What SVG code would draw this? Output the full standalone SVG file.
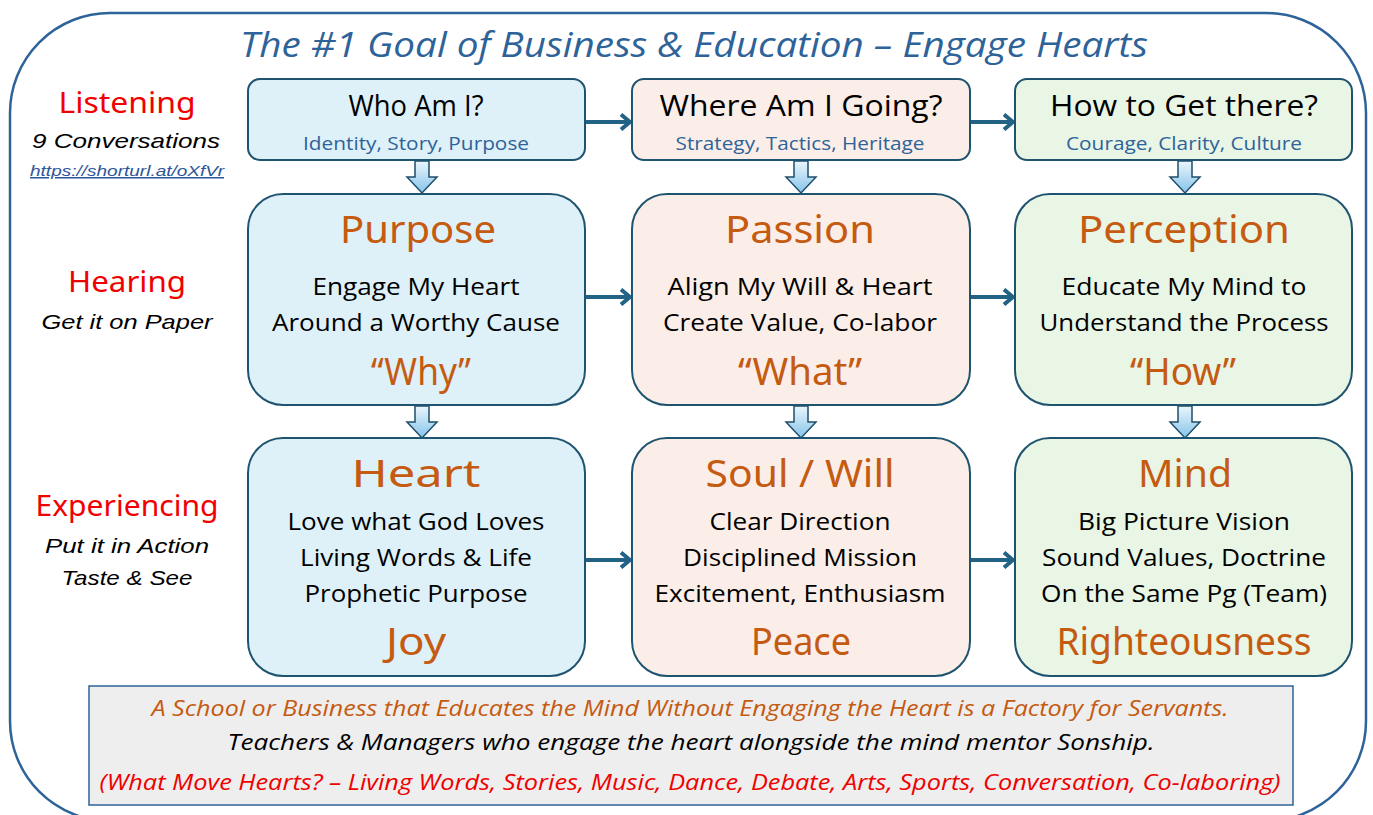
<svg xmlns="http://www.w3.org/2000/svg" width="1373" height="815" viewBox="0 0 1373 815">
<style>
.frame{fill:#fff;stroke:#2E6399;stroke-width:2.5}
.box{stroke:#1F5470;stroke-width:2}
.blue{fill:#DEF0F8}.peach{fill:#FBEEE8}.green{fill:#E9F5E5}
.t{font-family:"Open Sans","Noto Sans",sans-serif;text-anchor:middle}
.q{font-size:30px;fill:#000}
.sub{font-size:19px;fill:#2E6399}
.hw{font-family:"Noto Sans","Open Sans",sans-serif;font-size:38px;fill:#C55A11;text-anchor:middle}
.body{font-size:24px;fill:#000}
.red{font-family:"Noto Sans",sans-serif;font-size:29px;fill:#F00000;text-anchor:middle}
.it{font-family:"Liberation Sans","Noto Sans",sans-serif;font-style:italic;font-size:21px;fill:#000;text-anchor:middle}
.conn{stroke:#226285;stroke-width:4;fill:none}
.blk{fill:url(#g);stroke:#1F4E6B;stroke-width:1.5}
</style>
<defs>
<linearGradient id="g" x1="0" y1="0" x2="0" y2="1"><stop offset="0" stop-color="#EAF6FC"/><stop offset="1" stop-color="#86C4EA"/></linearGradient>
<marker id="ah" markerWidth="14" markerHeight="18" refX="11" refY="9" orient="auto" markerUnits="userSpaceOnUse"><path d="M2,1.5 L11,9 L2,16.5" fill="none" stroke="#226285" stroke-width="4"/></marker>
</defs>
<rect class="frame" x="10" y="13" width="1356" height="808" rx="100"/>
<text x="694" y="57" font-family="Open Sans,Noto Sans,sans-serif" font-style="italic" font-size="34" fill="#2E6399" text-anchor="middle" textLength="908" lengthAdjust="spacingAndGlyphs">The #1 Goal of Business &amp; Education – Engage Hearts</text>

<g id="labels">
<text class="red" x="127" y="113" textLength="137" lengthAdjust="spacingAndGlyphs">Listening</text>
<text class="it" x="126" y="148" textLength="188" lengthAdjust="spacingAndGlyphs">9 Conversations</text>
<text class="it" x="127" y="176" text-decoration="underline" textLength="194" lengthAdjust="spacingAndGlyphs" style="fill:#2E5597;font-size:15px">https://shorturl.at/oXfVr</text>
<text class="red" x="127" y="292" textLength="118" lengthAdjust="spacingAndGlyphs">Hearing</text>
<text class="it" x="127" y="329" textLength="171" lengthAdjust="spacingAndGlyphs">Get it on Paper</text>
<text class="red" x="127" y="516" textLength="183" lengthAdjust="spacingAndGlyphs">Experiencing</text>
<text class="it" x="127" y="553" textLength="164" lengthAdjust="spacingAndGlyphs">Put it in Action</text>
<text class="it" x="127" y="585" textLength="131" lengthAdjust="spacingAndGlyphs">Taste &amp; See</text>
</g>

<g id="connectors">
<line class="conn" x1="586" y1="122" x2="630" y2="122" marker-end="url(#ah)"/>
<line class="conn" x1="971" y1="122" x2="1013" y2="122" marker-end="url(#ah)"/>
<line class="conn" x1="586" y1="297" x2="630" y2="297" marker-end="url(#ah)"/>
<line class="conn" x1="971" y1="297" x2="1013" y2="297" marker-end="url(#ah)"/>
<line class="conn" x1="586" y1="560" x2="630" y2="560" marker-end="url(#ah)"/>
<line class="conn" x1="971" y1="560" x2="1013" y2="560" marker-end="url(#ah)"/>
<path class="blk" d="M415,161 h14 v16 h8 l-15,16 l-15,-16 h8 z"/>
<path class="blk" d="M794,161 h14 v16 h8 l-15,16 l-15,-16 h8 z"/>
<path class="blk" d="M1178,161 h14 v16 h8 l-15,16 l-15,-16 h8 z"/>
<path class="blk" d="M415,406 h14 v16 h8 l-15,16 l-15,-16 h8 z"/>
<path class="blk" d="M794,406 h14 v16 h8 l-15,16 l-15,-16 h8 z"/>
<path class="blk" d="M1178,406 h14 v16 h8 l-15,16 l-15,-16 h8 z"/>
</g>

<g id="who">
<rect class="box blue" x="248" y="79" width="337" height="81" rx="12"/>
<text class="t q" x="416" y="116" textLength="135" lengthAdjust="spacingAndGlyphs">Who Am I?</text>
<text class="t sub" x="416" y="150" textLength="226" lengthAdjust="spacingAndGlyphs">Identity, Story, Purpose</text>
</g>
<g id="where">
<rect class="box peach" x="632" y="79" width="338" height="81" rx="12"/>
<text class="t q" x="801" y="116" textLength="283" lengthAdjust="spacingAndGlyphs">Where Am I Going?</text>
<text class="t sub" x="800" y="150" textLength="249" lengthAdjust="spacingAndGlyphs">Strategy, Tactics, Heritage</text>
</g>
<g id="how">
<rect class="box green" x="1015" y="79" width="337" height="81" rx="12"/>
<text class="t q" x="1184" y="116" textLength="268" lengthAdjust="spacingAndGlyphs">How to Get there?</text>
<text class="t sub" x="1184" y="150" textLength="236" lengthAdjust="spacingAndGlyphs">Courage, Clarity, Culture</text>
</g>

<g id="purpose">
<rect class="box blue" x="248" y="194" width="337" height="211" rx="35"/>
<text class="hw" x="418" y="243" textLength="156" lengthAdjust="spacingAndGlyphs">Purpose</text>
<text class="t body" x="416" y="295" textLength="207" lengthAdjust="spacingAndGlyphs">Engage My Heart</text>
<text class="t body" x="416" y="331" textLength="288" lengthAdjust="spacingAndGlyphs">Around a Worthy Cause</text>
<text class="hw" x="421" y="385" textLength="100" lengthAdjust="spacingAndGlyphs">“Why”</text>
</g>
<g id="passion">
<rect class="box peach" x="632" y="194" width="338" height="211" rx="35"/>
<text class="hw" x="800" y="243" textLength="150" lengthAdjust="spacingAndGlyphs">Passion</text>
<text class="t body" x="800" y="295" textLength="265" lengthAdjust="spacingAndGlyphs">Align My Will &amp; Heart</text>
<text class="t body" x="800" y="331" textLength="274" lengthAdjust="spacingAndGlyphs">Create Value, Co-labor</text>
<text class="hw" x="800" y="385" textLength="124" lengthAdjust="spacingAndGlyphs">“What”</text>
</g>
<g id="perception">
<rect class="box green" x="1015" y="194" width="337" height="211" rx="35"/>
<text class="hw" x="1184" y="243" textLength="212" lengthAdjust="spacingAndGlyphs">Perception</text>
<text class="t body" x="1184" y="295" textLength="245" lengthAdjust="spacingAndGlyphs">Educate My Mind to</text>
<text class="t body" x="1184" y="331" textLength="289" lengthAdjust="spacingAndGlyphs">Understand the Process</text>
<text class="hw" x="1183" y="385" textLength="106" lengthAdjust="spacingAndGlyphs">“How”</text>
</g>

<g id="heart">
<rect class="box blue" x="248" y="438" width="337" height="238" rx="35"/>
<text class="hw" x="416" y="487" textLength="129" lengthAdjust="spacingAndGlyphs">Heart</text>
<text class="t body" x="416" y="530" textLength="257" lengthAdjust="spacingAndGlyphs">Love what God Loves</text>
<text class="t body" x="416" y="566" textLength="232" lengthAdjust="spacingAndGlyphs">Living Words &amp; Life</text>
<text class="t body" x="416" y="602" textLength="223" lengthAdjust="spacingAndGlyphs">Prophetic Purpose</text>
<text class="hw" x="416" y="655" textLength="60" lengthAdjust="spacingAndGlyphs">Joy</text>
</g>
<g id="soul">
<rect class="box peach" x="632" y="438" width="338" height="238" rx="35"/>
<text class="hw" x="800" y="487" textLength="189" lengthAdjust="spacingAndGlyphs">Soul / Will</text>
<text class="t body" x="800" y="530" textLength="181" lengthAdjust="spacingAndGlyphs">Clear Direction</text>
<text class="t body" x="800" y="566" textLength="234" lengthAdjust="spacingAndGlyphs">Disciplined Mission</text>
<text class="t body" x="800" y="602" textLength="291" lengthAdjust="spacingAndGlyphs">Excitement, Enthusiasm</text>
<text class="hw" x="801" y="655" textLength="100" lengthAdjust="spacingAndGlyphs">Peace</text>
</g>
<g id="mind">
<rect class="box green" x="1015" y="438" width="337" height="238" rx="35"/>
<text class="hw" x="1185" y="487" textLength="94" lengthAdjust="spacingAndGlyphs">Mind</text>
<text class="t body" x="1184" y="530" textLength="212" lengthAdjust="spacingAndGlyphs">Big Picture Vision</text>
<text class="t body" x="1184" y="566" textLength="284" lengthAdjust="spacingAndGlyphs">Sound Values, Doctrine</text>
<text class="t body" x="1184" y="602" textLength="286" lengthAdjust="spacingAndGlyphs">On the Same Pg (Team)</text>
<text class="hw" x="1184" y="655" textLength="255" lengthAdjust="spacingAndGlyphs">Righteousness</text>
</g>

<g id="note">
<rect x="89" y="686" width="1204" height="119" fill="#EEEEEE" stroke="#2E6399" stroke-width="1.5"/>
<text class="t" x="690" y="716" font-style="italic" style="fill:#C55A11;font-size:21px" textLength="1077" lengthAdjust="spacingAndGlyphs">A School or Business that Educates the Mind Without Engaging the Heart is a Factory for Servants.</text>
<text class="t" x="691" y="750" font-style="italic" style="fill:#000;font-size:21px" textLength="927" lengthAdjust="spacingAndGlyphs">Teachers &amp; Managers who engage the heart alongside the mind mentor Sonship.</text>
<text class="t" x="690" y="790" font-style="italic" style="fill:#F00000;font-size:21px" textLength="1181" lengthAdjust="spacingAndGlyphs">(What Move Hearts? – Living Words, Stories, Music, Dance, Debate, Arts, Sports, Conversation, Co-laboring)</text>
</g>
</svg>
